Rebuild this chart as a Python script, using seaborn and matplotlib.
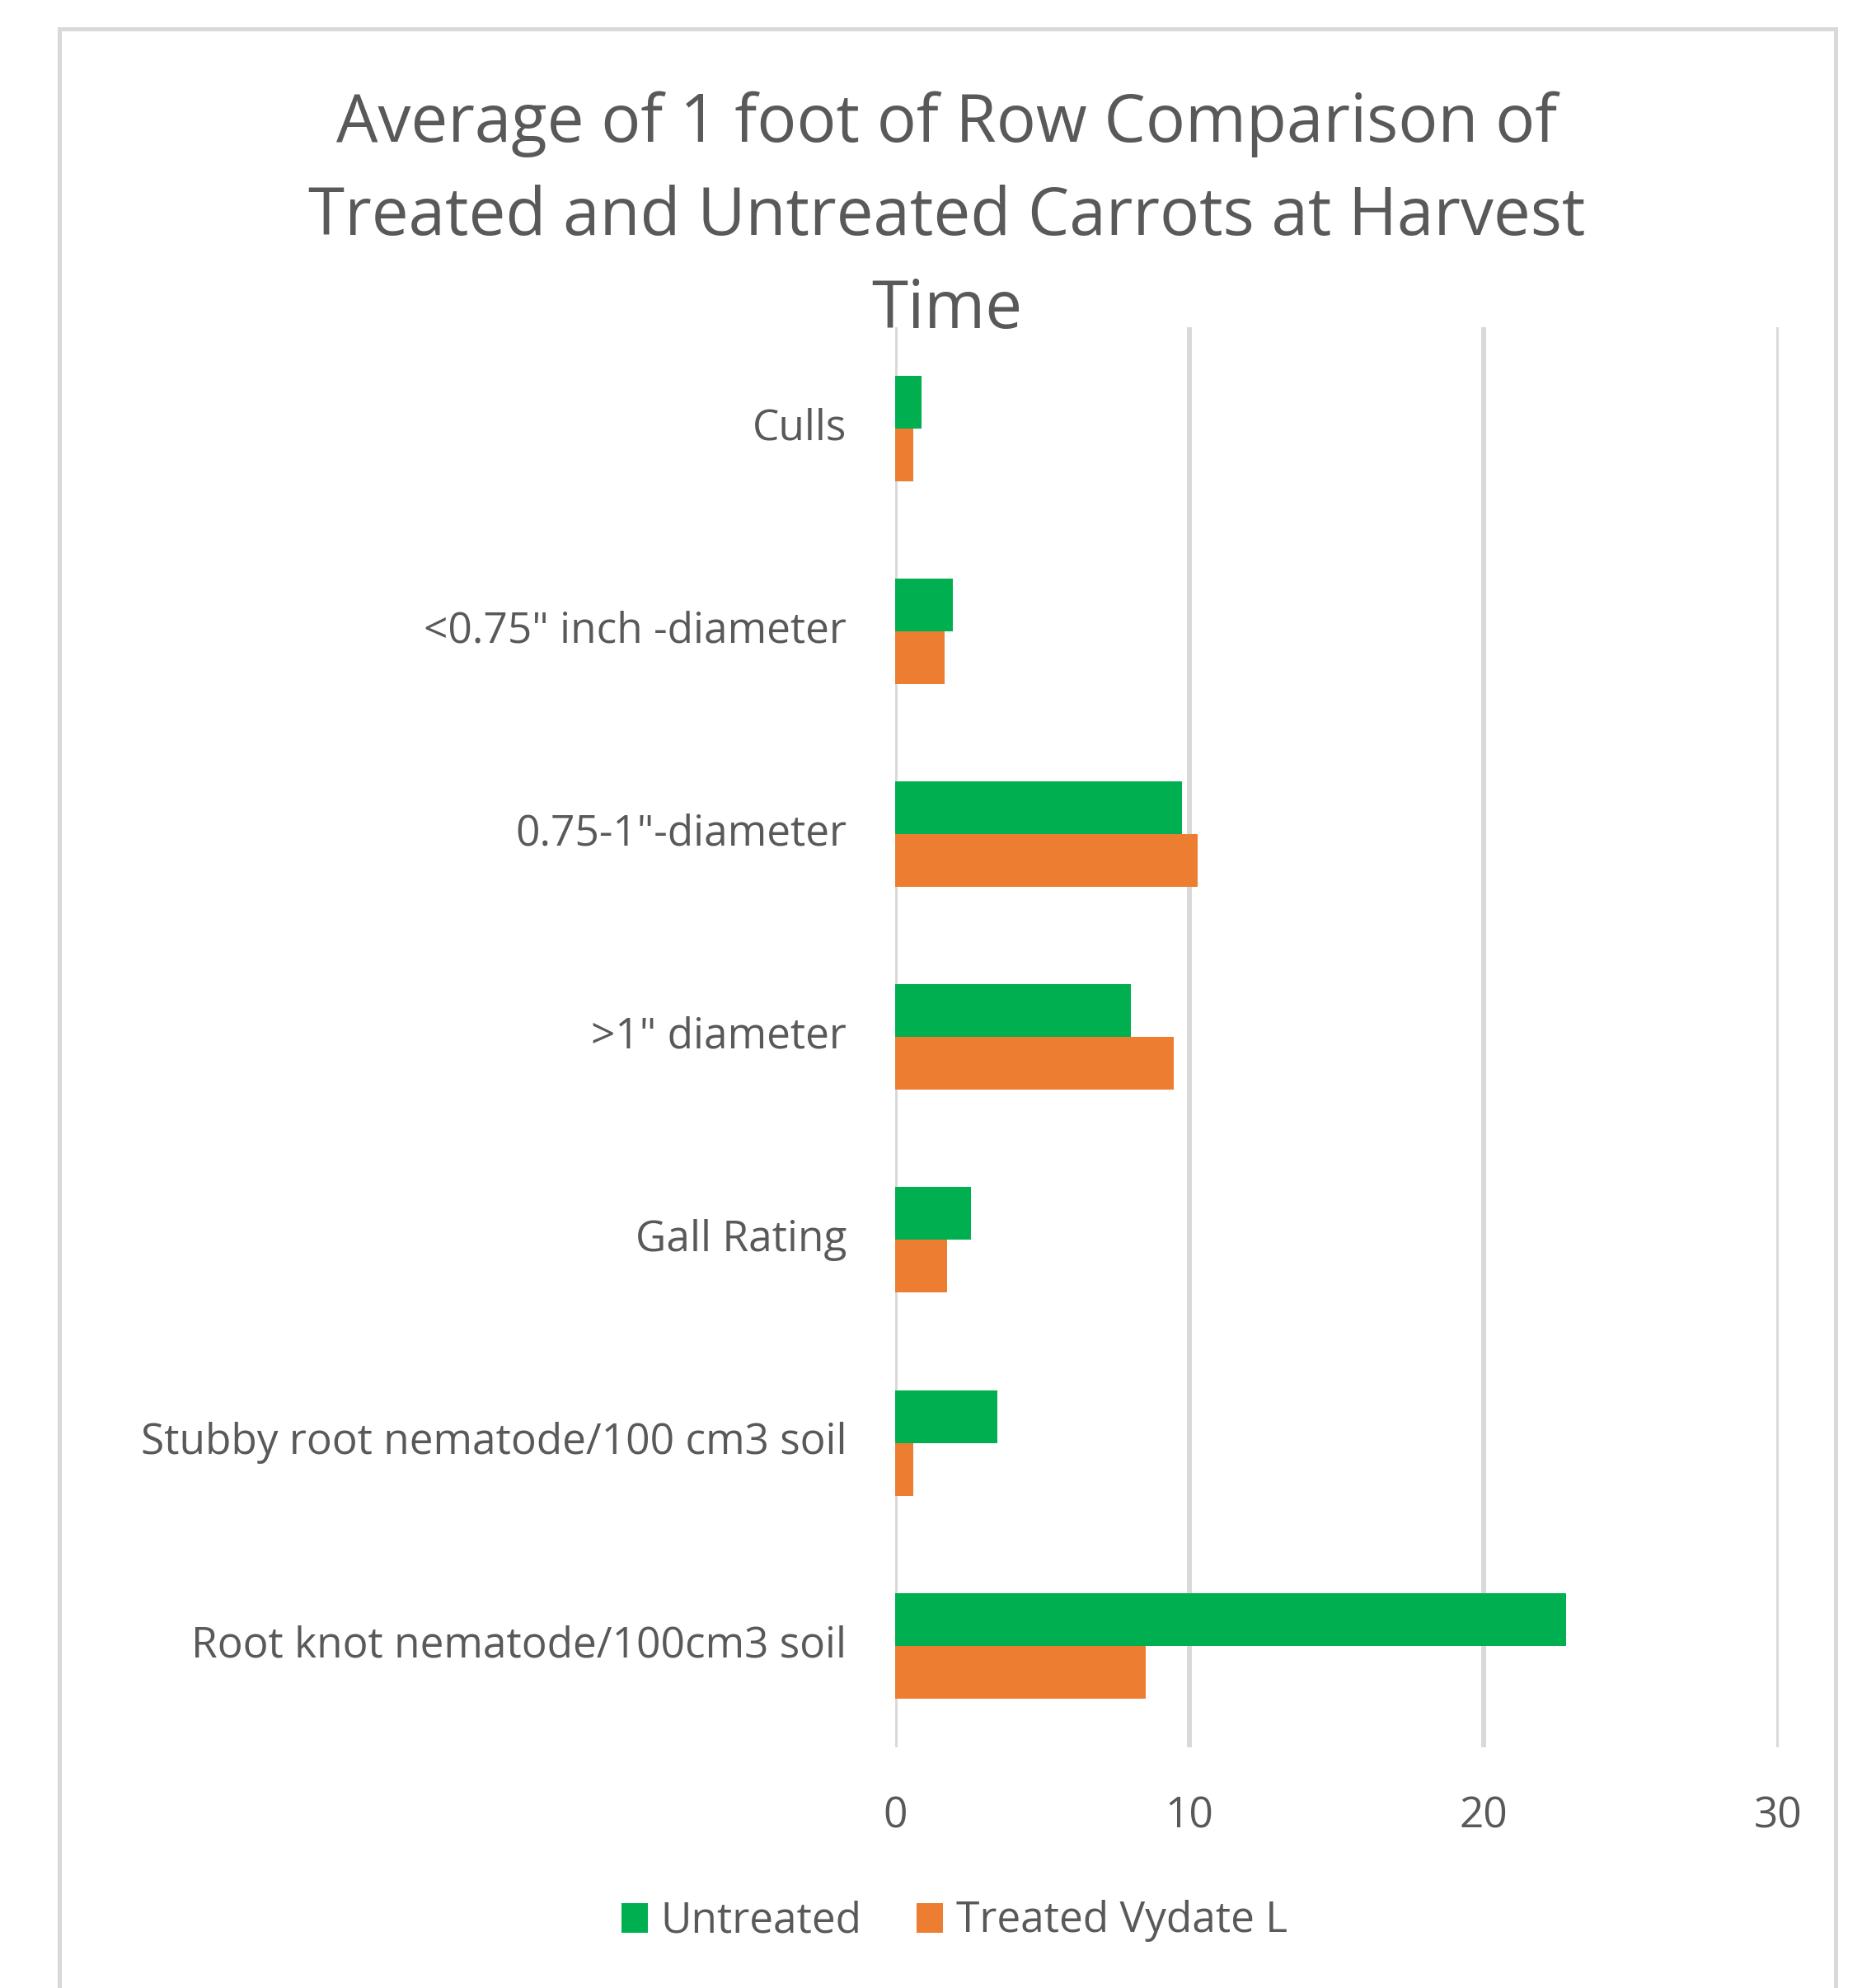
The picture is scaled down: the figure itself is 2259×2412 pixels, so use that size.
import matplotlib
matplotlib.use("Agg")
import matplotlib.pyplot as plt
from matplotlib.patches import Rectangle
import seaborn as sns
import pandas as pd

# Data: average per 1 foot of row at harvest
categories = [
    "Culls",
    "<0.75\" inch -diameter",
    "0.75-1\"-diameter",
    ">1\" diameter",
    "Gall Rating",
    "Stubby root nematode/100 cm3 soil",
    "Root knot nematode/100cm3 soil",
]
untreated = [0.9, 1.97, 9.76, 8.0, 2.59, 3.48, 22.78]
treated = [0.62, 1.69, 10.29, 9.48, 1.77, 0.62, 8.52]
series_names = ["Untreated", "Treated Vydate L"]
x_ticks = [0, 10, 20, 30]
title_lines = [
    "Average of 1 foot of Row Comparison of",
    "Treated and Untreated Carrots at Harvest",
    "Time",
]

GREEN = "#00B050"
ORANGE = "#ED7D31"
TEXT = "#595959"
GRID = "#D9D9D9"

df = pd.DataFrame({
    "category": categories * 2,
    "value": untreated + treated,
    "series": [series_names[0]] * len(categories) + [series_names[1]] * len(categories),
})

sns.set_theme(style="white")
plt.rcParams["font.family"] = ["Open Sans", "DejaVu Sans"]

W, H = 2259, 2412
fig = plt.figure(figsize=(W / 100, H / 100), dpi=100)
fig.patch.set_facecolor("white")

# axes placement in pixels
x0, x1 = 1085.7, 2157.5
y_top, y_bot = 396.5, 2120.0
ax = fig.add_axes([x0 / W, 1 - y_bot / H, (x1 - x0) / W, (y_bot - y_top) / H])

sns.barplot(
    data=df, x="value", y="category", hue="series", orient="h",
    palette=[GREEN, ORANGE], width=0.52, gap=0, saturation=1,
    order=categories, hue_order=series_names, ax=ax, zorder=3,
    linewidth=0, edgecolor="none",
)

ax.set_xlim(0, 30)
ax.set_xticks(x_ticks)
ax.set_xticklabels([str(t) for t in x_ticks])
ax.set_xlabel("")
ax.set_ylabel("")
for s in ax.spines.values():
    s.set_visible(False)
ax.grid(axis="x", color=GRID, linewidth=4.3, zorder=0)
ax.grid(axis="y", visible=False)
ax.set_axisbelow(True)
ax.tick_params(axis="y", length=0, pad=42, labelsize=37, labelcolor=TEXT)
ax.tick_params(axis="x", length=0, pad=42, labelsize=37, labelcolor=TEXT)
for lbl in ax.get_yticklabels():
    lbl.set_verticalalignment("center")

# legend below the plot
sns.move_legend(
    ax, "center", bbox_to_anchor=(1158 / W, 1 - 2331 / H),
    bbox_transform=fig.transFigure, ncol=2, frameon=False, title=None,
    fontsize=37, handlelength=0.62, handleheight=0.7, handletextpad=0.3,
    columnspacing=1.3, labelcolor=TEXT,
)

# chart title, three centred lines
baselines = [172, 285, 398]
for line, yb in zip(title_lines, baselines):
    fig.text(1149 / W, 1 - yb / H, line, ha="center", va="baseline",
             fontsize=57.5, color=TEXT)

# chart area border
left_px, right_px, top_px = 72, 2227, 35
fig.patches.append(Rectangle(
    (left_px / W, -0.02), (right_px - left_px) / W, 1.02 - top_px / H,
    transform=fig.transFigure, fill=False, edgecolor=GRID, linewidth=3.6,
))

fig.savefig("out.png", dpi=100, facecolor="white")
